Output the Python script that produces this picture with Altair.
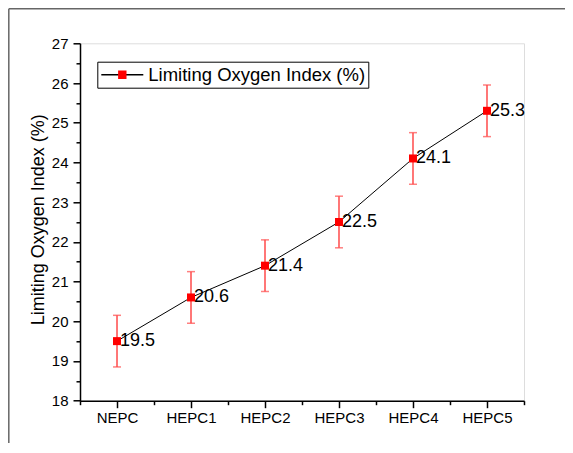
import json
import altair as alt
import pandas as pd

categories = ["NEPC", "HEPC1", "HEPC2", "HEPC3", "HEPC4", "HEPC5"]
loi_values = [19.5, 20.6, 21.4, 22.5, 24.1, 25.3]
loi_errors = [0.65, 0.65, 0.65, 0.65, 0.65, 0.65]
series_name = "Limiting Oxygen Index (%)"
y_ticks = list(range(18, 28))
y_minor = [v + 0.5 for v in range(18, 27)]
x_index = list(range(len(categories)))
x_minor = [i - 0.5 for i in range(len(categories) + 1)]

df = pd.DataFrame({
    "idx": x_index,
    "name": categories,
    "value": loi_values,
    "err": loi_errors,
    "series": [series_name] * len(categories),
})
df["lower"] = df["value"] - df["err"]
df["upper"] = df["value"] + df["err"]

FONT = "Liberation Sans"
W, H = 444, 357.4
PAD = {"left": 72, "top": 35.3, "right": 41, "bottom": 42}
xscale = alt.Scale(domain=[-0.5, len(categories) - 0.5], nice=False, zero=False)
yscale = alt.Scale(domain=[18, 27], nice=False, zero=False)

label_expr = json.dumps(categories) + "[datum.value]"

x_major_axis = alt.Axis(values=x_index, labelExpr=label_expr, tickSize=7, tickWidth=1.5,
                        domainWidth=1.5, domainColor="black", tickColor="black",
                        labelColor="black", labelFontSize=15, labelFont=FONT,
                        labelPadding=3, grid=False, title=None, orient="bottom",
                        labelFlush=False, labelOverlap=False)
y_major_axis = alt.Axis(values=y_ticks, tickSize=7, tickWidth=1.5, domainWidth=1.5,
                        domainColor="black", tickColor="black", labelColor="black",
                        labelFontSize=15, labelFont=FONT, labelPadding=5, grid=False,
                        title=series_name, titleFont=FONT, titleFontSize=18,
                        titleFontWeight="normal", titleColor="black",
                        titleAngle=-90, titleBaseline="alphabetic", titleAlign="center",
                        titleX=-37, titleY=176, orient="left", labelFlush=False)
x_minor_axis = alt.Axis(values=x_minor, tickSize=4, tickWidth=1.5, tickColor="black",
                        labels=False, domain=False, grid=False, title=None, orient="bottom")
y_minor_axis = alt.Axis(values=y_minor, tickSize=4, tickWidth=1.5, tickColor="black",
                        labels=False, domain=False, grid=False, title=None, orient="left")

LEG_X, LEG_Y = 17.3, 18.4
legend_common = dict(title=None, orient="none", legendX=LEG_X, legendY=LEG_Y, padding=3,
                     symbolSize=1764, symbolStrokeWidth=1.5, symbolOpacity=1,
                     clipHeight=20, labelFontSize=18.5, labelFont=FONT, labelColor="black",
                     labelOffset=4, labelLimit=500)

base = alt.Chart(df)
frame_df = pd.DataFrame({"a": [0]})
fx0 = -PAD["left"] + 0.8
fy0 = -PAD["top"] + 0.8
fx1 = W + PAD["right"] + 5
fy1 = H + PAD["bottom"] + 5

frame_left = alt.Chart(frame_df).mark_rule(color="#666666", strokeWidth=1.5).encode(
    x=alt.value(fx0), y=alt.value(fy0), y2=alt.value(fy1))
frame_top = alt.Chart(frame_df).mark_rule(color="#666666", strokeWidth=1.5).encode(
    y=alt.value(fy0), x=alt.value(fx0), x2=alt.value(fx1))

line = base.mark_line(strokeWidth=1).encode(
    x=alt.X("idx:Q", scale=xscale, axis=x_major_axis),
    y=alt.Y("value:Q", scale=yscale, axis=y_major_axis),
    stroke=alt.Stroke("series:N", scale=alt.Scale(range=["black"]),
                      legend=alt.Legend(symbolType="M-1,0L1,0", symbolStrokeColor="#808080",
                                        strokeColor="black", **legend_common)),
)

err = base.mark_rule(color="#ff4a4a", strokeWidth=1.5).encode(
    x=alt.X("idx:Q", scale=xscale, axis=x_minor_axis),
    y=alt.Y("lower:Q", scale=yscale, axis=y_minor_axis),
    y2="upper:Q",
)

cap_lo = base.mark_tick(orient="horizontal", size=8, thickness=1.5, color="#ff4a4a").encode(
    x=alt.X("idx:Q", scale=xscale, axis=None),
    y=alt.Y("lower:Q", scale=yscale, axis=None),
)
cap_hi = base.mark_tick(orient="horizontal", size=8, thickness=1.5, color="#ff4a4a").encode(
    x=alt.X("idx:Q", scale=xscale, axis=None),
    y=alt.Y("upper:Q", scale=yscale, axis=None),
)

square_path = "M-0.2,-0.2L0.2,-0.2L0.2,0.2L-0.2,0.2Z"

points = base.mark_point(shape="square", filled=True, size=64, opacity=1).encode(
    x=alt.X("idx:Q", scale=xscale, axis=None),
    y=alt.Y("value:Q", scale=yscale, axis=None),
    fill=alt.Fill("series:N", scale=alt.Scale(range=["#ff0000"]),
                  legend=alt.Legend(symbolType=square_path, symbolFillColor="#ff0000",
                                    symbolStrokeColor="transparent", labelOpacity=0,
                                    **legend_common)),
)

labels = base.mark_text(align="left", baseline="middle", dx=3, fontSize=18, font=FONT,
                        color="black").encode(
    x=alt.X("idx:Q", scale=xscale, axis=None),
    y=alt.Y("value:Q", scale=yscale, axis=None),
    text=alt.Text("value:Q", format=".1f"),
)

chart = alt.layer(frame_left, frame_top, line, err, cap_lo, cap_hi, points, labels).resolve_axis(
    x="independent", y="independent"
).properties(
    width=W, height=H,
    autosize=alt.AutoSizeParams(type="none"),
    padding=PAD,
).configure_view(stroke=None).configure(background="white")

chart.save("out.html", embed_options={"renderer": "svg", "actions": False})
